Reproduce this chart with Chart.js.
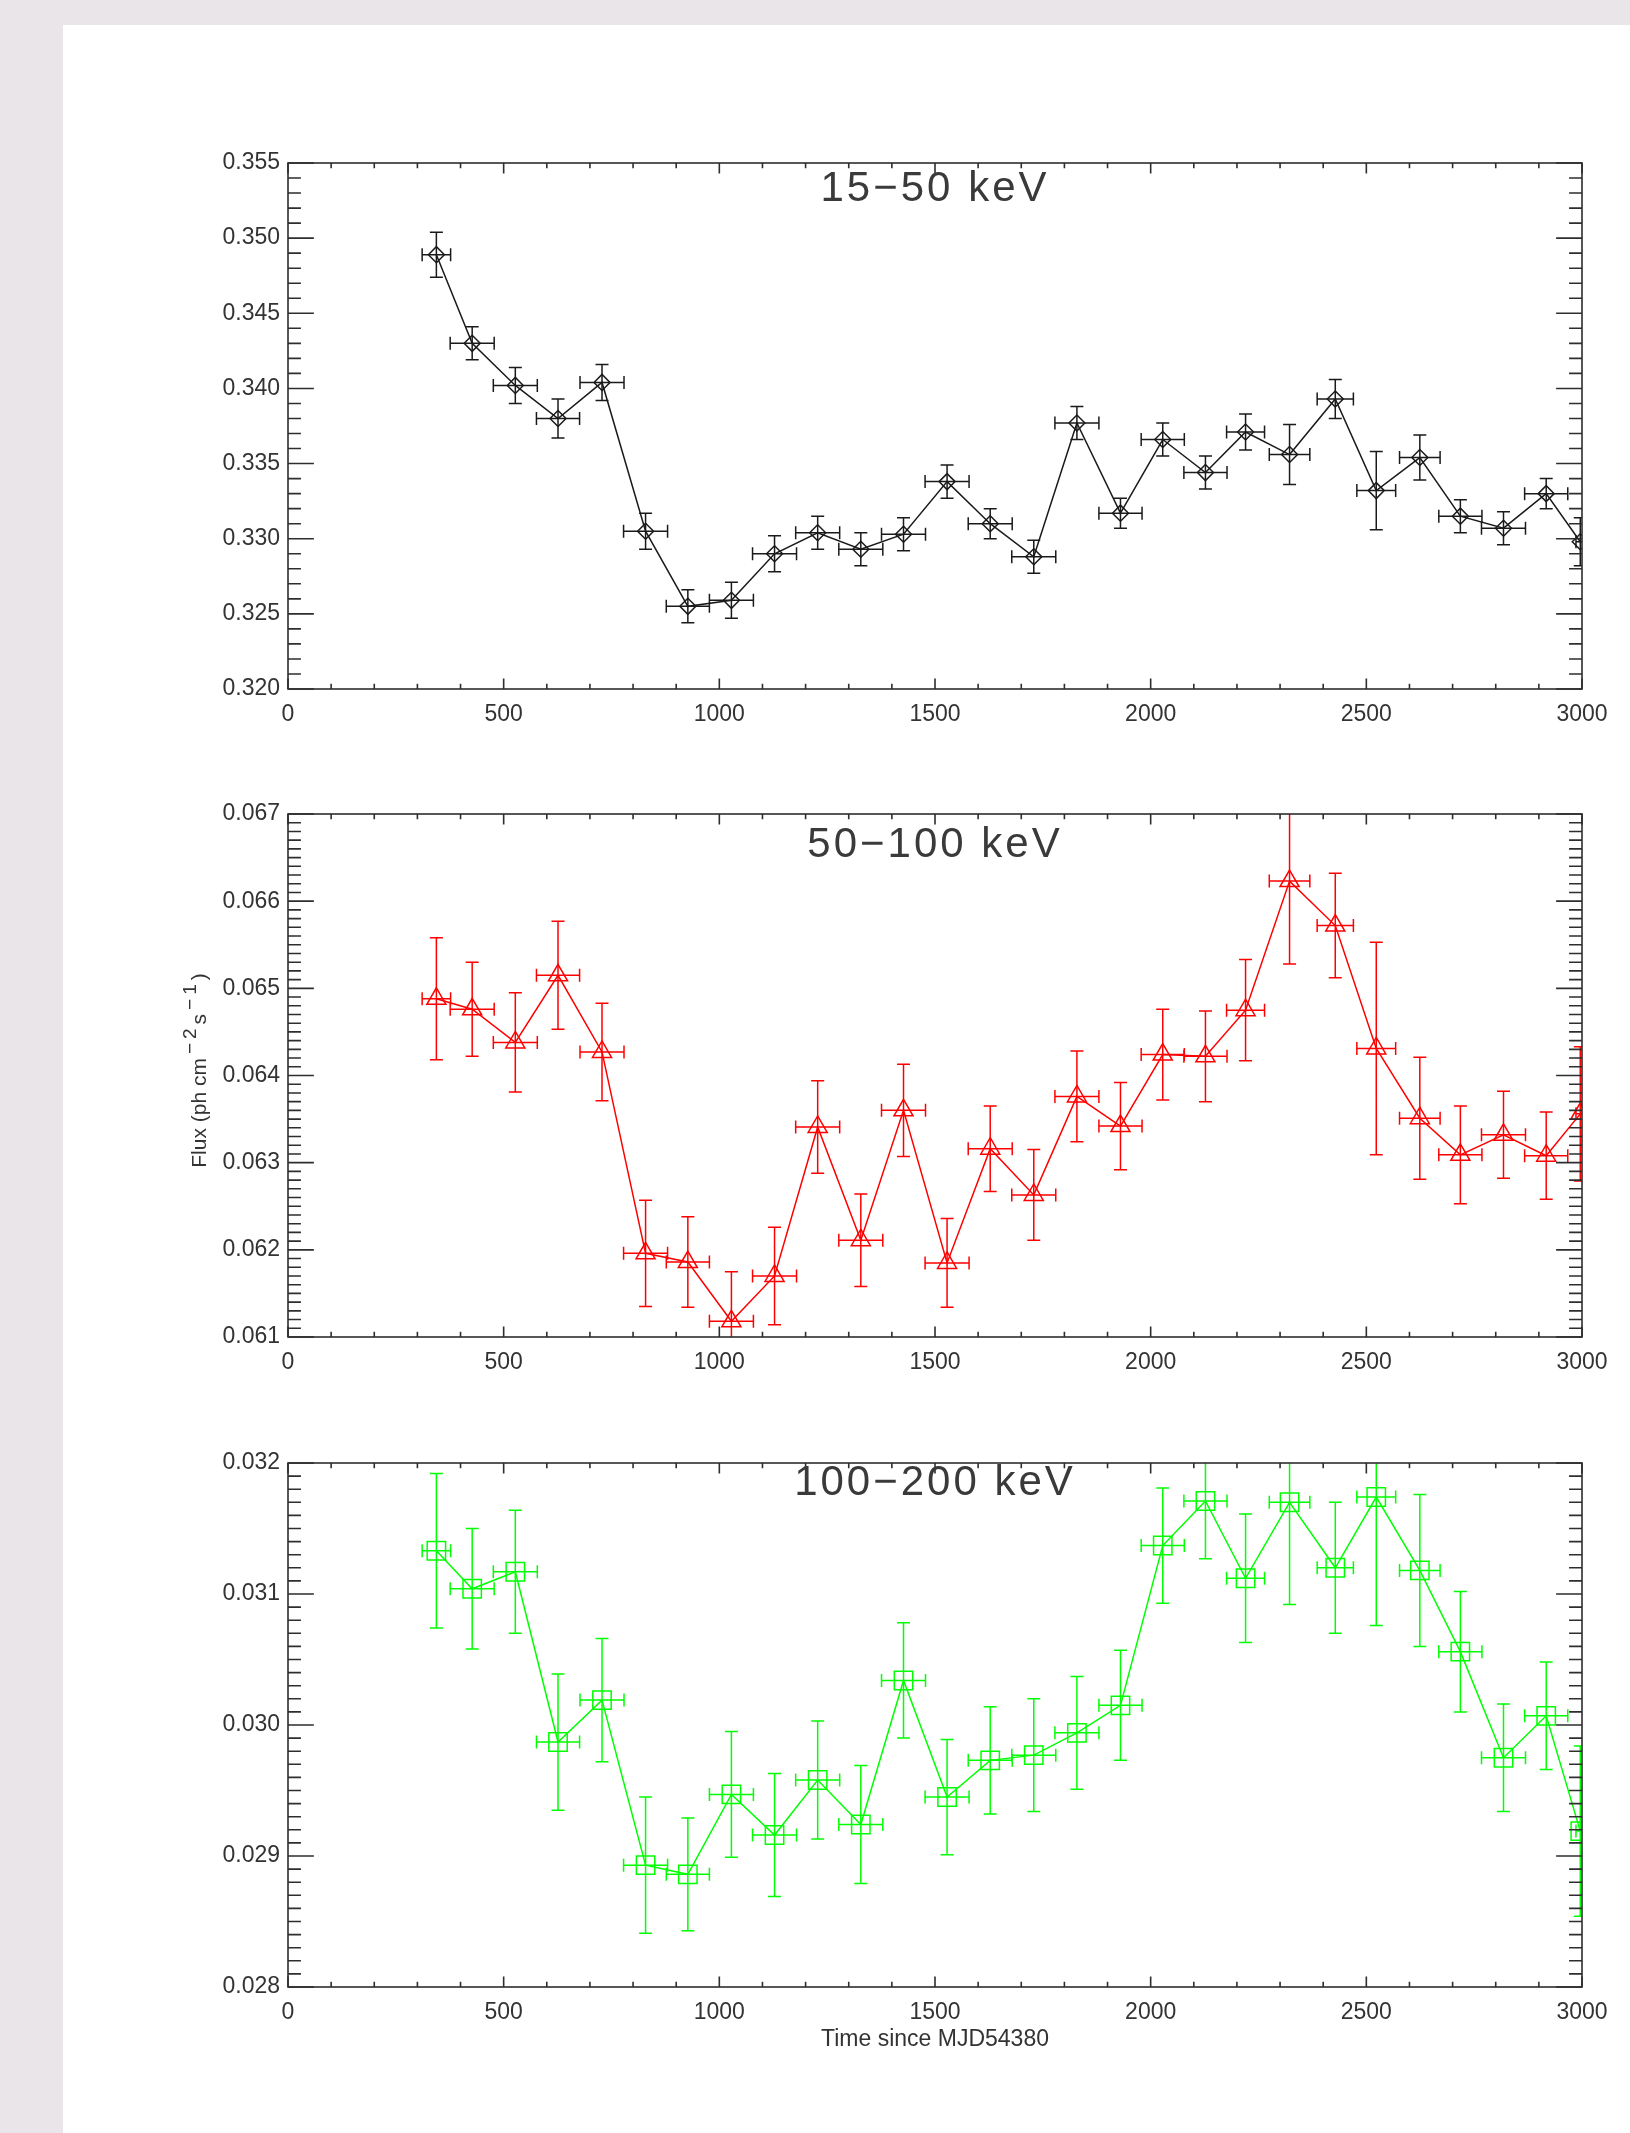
<!DOCTYPE html>
<html>
<head>
<meta charset="utf-8">
<title>Flux light curves</title>
<script src="https://cdn.jsdelivr.net/npm/chart.js@4.4.1/dist/chart.umd.min.js"></script>
<style>
  html, body { margin: 0; padding: 0; }
  body { width: 1630px; height: 2133px; background: #eae5e9; position: relative; overflow: hidden; }
  .card { position: absolute; left: 63px; top: 25px; width: 1567px; height: 2108px; background: #fff; }
  canvas.panel { position: absolute; left: 63px; width: 1567px; }
</style>
</head>
<body>
<div class="card"></div>
<canvas id="p1" class="panel" width="1567" height="706" style="top:25px;height:706px"></canvas>
<canvas id="p2" class="panel" width="1567" height="619" style="top:760px;height:619px"></canvas>
<canvas id="p3" class="panel" width="1567" height="653" style="top:1400px;height:653px"></canvas>

<script>
// === DATA ===
const days = [344, 427, 527, 626, 728, 829, 927, 1028, 1128, 1228, 1328, 1427, 1528, 1628,
  1729, 1829, 1930, 2028, 2127, 2220, 2322, 2428, 2523, 2624, 2718, 2818, 2917, 2996];
const dayErr = [33, 51, 51, 50, 51, 51, 50, 51, 51, 51, 51, 51, 51, 51,
  51, 51, 50, 50, 50, 44, 47, 42, 45, 47, 50, 51, 50, 10];

const flux15_50 = [0.3489, 0.3430, 0.3402, 0.3380, 0.3404, 0.3305, 0.3255, 0.3259, 0.3290, 0.3304,
  0.3293, 0.3303, 0.3338, 0.3310, 0.3288, 0.3377, 0.3317, 0.3366, 0.3344, 0.3371,
  0.3356, 0.3393, 0.3332, 0.3354, 0.3315, 0.3307, 0.3330, 0.3298];
const err15_50 = [0.0015, 0.0011, 0.0012, 0.0013, 0.0012, 0.0012, 0.0011, 0.0012, 0.0012, 0.0011,
  0.0011, 0.0011, 0.0011, 0.0010, 0.0011, 0.0011, 0.0010, 0.0011, 0.0011, 0.0012,
  0.0020, 0.0013, 0.0026, 0.0015, 0.0011, 0.0011, 0.0010, 0.0016];

const flux50_100 = [0.06488, 0.06476, 0.06438, 0.06515, 0.06427, 0.06196, 0.06186, 0.06118, 0.06170, 0.06341,
  0.06211, 0.06360, 0.06185, 0.06316, 0.06263, 0.06376, 0.06342, 0.06424, 0.06422, 0.06475,
  0.06623, 0.06572, 0.06431, 0.06351, 0.06309, 0.06332, 0.06308, 0.06356];
const err50_100 = [0.00070, 0.00054, 0.00057, 0.00062, 0.00056, 0.00061, 0.00052, 0.00057, 0.00056, 0.00053,
  0.00053, 0.00053, 0.00051, 0.00049, 0.00052, 0.00052, 0.00050, 0.00052, 0.00052, 0.00058,
  0.00095, 0.00060, 0.00122, 0.00070, 0.00056, 0.00050, 0.00050, 0.00077];

const flux100_200 = [0.03133, 0.03104, 0.03117, 0.02987, 0.03019, 0.02893, 0.02886, 0.02947, 0.02916, 0.02958,
  0.02924, 0.03034, 0.02945, 0.02973, 0.02977, 0.02994, 0.03015, 0.03137, 0.03171, 0.03112,
  0.03170, 0.03120, 0.03174, 0.03118, 0.03056, 0.02975, 0.03007, 0.02919];
const err100_200 = [0.00059, 0.00046, 0.00047, 0.00052, 0.00047, 0.00052, 0.00043, 0.00048, 0.00047, 0.00045,
  0.00045, 0.00044, 0.00044, 0.00041, 0.00043, 0.00043, 0.00042, 0.00044, 0.00044, 0.00049,
  0.00078, 0.00050, 0.00098, 0.00058, 0.00046, 0.00041, 0.00041, 0.00065];

const xTicks = [0, 500, 1000, 1500, 2000, 2500, 3000];
const yTicks15_50 = [0.320, 0.325, 0.330, 0.335, 0.340, 0.345, 0.350, 0.355];
const yTicks50_100 = [0.061, 0.062, 0.063, 0.064, 0.065, 0.066, 0.067];
const yTicks100_200 = [0.028, 0.029, 0.030, 0.031, 0.032];

const bandNames = ["15−50 keV", "50−100 keV", "100−200 keV"];
// y title with its two superscripts: Flux (ph cm^-2 s^-1)
const yTitleParts = [
  { text: "Flux (ph cm", sup: false },
  { text: "−2", sup: true },
  { text: "s", sup: false },
  { text: "−1", sup: true },
  { text: ")", sup: false }
];
const xAxisTitle = "Time since MJD54380";

// === STYLE ===
const FONT = '"Liberation Sans", Arial, sans-serif';
const AXIS_COLOR = "#2e2e2e";
const TEXT_COLOR = "#333";

const panels = [
  { id: "p1", name: bandNames[0], flux: flux15_50, err: err15_50, yTicks: yTicks15_50,
    color: "#1a1a1a", marker: "rectRot", radius: 8, minorStep: 0.001, majorStep: 0.005,
    padTop: 138, xHeight: 42, titleDy: 26 },
  { id: "p2", name: bandNames[1], flux: flux50_100, err: err50_100, yTicks: yTicks50_100,
    color: "#ff0000", marker: "triangle", radius: 11, minorStep: 0.0001, majorStep: 0.001,
    padTop: 54, xHeight: 42, titleDy: 31, yTitle: true },
  { id: "p3", name: bandNames[2], flux: flux100_200, err: err100_200, yTicks: yTicks100_200,
    color: "#00ff00", marker: "rect", radius: 13, minorStep: 0.0001, majorStep: 0.001,
    padTop: 63, xHeight: 66, titleDy: 20, xTitle: xAxisTitle }
];

function drawYTitle(ctx, cx, cy) {
  const base = `21px ${FONT}`;
  const small = `19px ${FONT}`;
  const supSpace = 4;
  const pieces = yTitleParts.map(p => {
    ctx.font = p.sup ? small : base;
    const w = ctx.measureText(p.text).width;
    return { ...p, w: p.sup ? w + supSpace * (p.text.length + 1) : w };
  });
  const total = pieces.reduce((s, p) => s + p.w, 0);
  ctx.save();
  ctx.translate(cx, cy);
  ctx.rotate(-Math.PI / 2);
  ctx.fillStyle = TEXT_COLOR;
  ctx.textAlign = "left";
  ctx.textBaseline = "alphabetic";
  let pos = -total / 2;
  pieces.forEach(p => {
    if (p.sup) {
      ctx.font = small;
      ctx.letterSpacing = supSpace + "px";
      ctx.fillText(p.text, pos + supSpace, -10);
    } else {
      ctx.font = base;
      ctx.letterSpacing = "0px";
      ctx.fillText(p.text, pos, 0);
    }
    pos += p.w;
  });
  ctx.restore();
}

// error bars, IDL style box with inward ticks, and the band label inside the plot
function idlPlugin(panel) {
  return {
    id: "idl_" + panel.id,
    afterDatasetsDraw(chart) {
      const { ctx, chartArea: a, scales: { x, y } } = chart;
      const cap = 6.5;
      ctx.save();
      ctx.beginPath();
      ctx.rect(a.left, a.top, a.right - a.left, a.bottom - a.top);
      ctx.clip();
      ctx.strokeStyle = panel.color;
      ctx.lineWidth = 1.5;
      ctx.beginPath();
      days.forEach((d, i) => {
        const px = x.getPixelForValue(d);
        const py = y.getPixelForValue(panel.flux[i]);
        const x0 = x.getPixelForValue(d - dayErr[i]);
        const x1 = x.getPixelForValue(d + dayErr[i]);
        const y0 = y.getPixelForValue(panel.flux[i] - panel.err[i]);
        const y1 = y.getPixelForValue(panel.flux[i] + panel.err[i]);
        ctx.moveTo(x0, py); ctx.lineTo(x1, py);
        ctx.moveTo(x0, py - cap); ctx.lineTo(x0, py + cap);
        ctx.moveTo(x1, py - cap); ctx.lineTo(x1, py + cap);
        ctx.moveTo(px, y0); ctx.lineTo(px, y1);
        ctx.moveTo(px - cap, y0); ctx.lineTo(px + cap, y0);
        ctx.moveTo(px - cap, y1); ctx.lineTo(px + cap, y1);
      });
      ctx.stroke();
      ctx.restore();
    },
    afterDraw(chart) {
      const { ctx, chartArea: a, scales: { x, y } } = chart;
      const w = a.right - a.left;
      const h = a.bottom - a.top;
      ctx.save();
      ctx.strokeStyle = AXIS_COLOR;
      ctx.lineWidth = 1.6;
      ctx.beginPath();
      for (let d = 0; d <= 3000; d += 100) {
        const px = x.getPixelForValue(d);
        const len = (d % 500 === 0 ? 0.02 : 0.01) * h;
        ctx.moveTo(px, a.bottom); ctx.lineTo(px, a.bottom - len);
        ctx.moveTo(px, a.top); ctx.lineTo(px, a.top + len);
      }
      const n = Math.round((y.max - y.min) / panel.minorStep);
      const per = Math.round(panel.majorStep / panel.minorStep);
      for (let i = 0; i <= n; i++) {
        const py = y.getPixelForValue(y.min + i * panel.minorStep);
        const len = (i % per === 0 ? 0.02 : 0.01) * w;
        ctx.moveTo(a.left, py); ctx.lineTo(a.left + len, py);
        ctx.moveTo(a.right, py); ctx.lineTo(a.right - len, py);
      }
      ctx.stroke();
      ctx.strokeRect(a.left, a.top, w, h);

      ctx.fillStyle = "#3a3a3a";
      ctx.font = `42px ${FONT}`;
      ctx.letterSpacing = "3px";
      ctx.textAlign = "center";
      ctx.textBaseline = "middle";
      ctx.fillText(panel.name, (a.left + a.right) / 2, a.top + panel.titleDy);
      ctx.restore();

      if (panel.yTitle) drawYTitle(ctx, a.left - 82, (a.top + a.bottom) / 2 - 5);
    }
  };
}

function makePanel(panel) {
  const canvas = document.getElementById(panel.id);
  return new Chart(canvas, {
    type: "line",
    data: {
      datasets: [{
        data: days.map((d, i) => ({ x: d, y: panel.flux[i] })),
        borderColor: panel.color,
        borderWidth: 1.5,
        tension: 0,
        clip: 0,
        pointStyle: panel.marker,
        pointRadius: panel.radius,
        pointBorderColor: panel.color,
        pointBackgroundColor: "rgba(0,0,0,0)",
        pointBorderWidth: 1.5
      }]
    },
    options: {
      responsive: false,
      animation: false,
      events: [],
      layout: { padding: { left: 0, right: 48, top: panel.padTop, bottom: 0 } },
      plugins: { legend: { display: false }, tooltip: { enabled: false } },
      scales: {
        x: {
          type: "linear",
          min: 0,
          max: 3000,
          grid: { display: false, drawTicks: false },
          border: { display: false },
          afterBuildTicks: scale => { scale.ticks = xTicks.map(v => ({ value: v })); },
          afterFit: scale => { scale.height = panel.xHeight; },
          ticks: {
            autoSkip: false,
            maxRotation: 0,
            padding: 12,
            color: TEXT_COLOR,
            font: { family: FONT, size: 23 },
            callback: v => String(v)
          },
          title: {
            display: !!panel.xTitle,
            text: panel.xTitle || "",
            color: TEXT_COLOR,
            font: { family: FONT, size: 23 },
            padding: { top: 0, bottom: 0 }
          }
        },
        y: {
          min: panel.yTicks[0],
          max: panel.yTicks[panel.yTicks.length - 1],
          grid: { display: false, drawTicks: false },
          border: { display: false },
          afterBuildTicks: scale => { scale.ticks = panel.yTicks.map(v => ({ value: v })); },
          afterFit: scale => { scale.width = 225; },
          ticks: {
            autoSkip: false,
            padding: 8,
            color: TEXT_COLOR,
            font: { family: FONT, size: 23 },
            callback: v => Number(v).toFixed(3)
          }
        }
      }
    },
    plugins: [idlPlugin(panel)]
  });
}

panels.forEach(makePanel);
</script>
</body>
</html>
